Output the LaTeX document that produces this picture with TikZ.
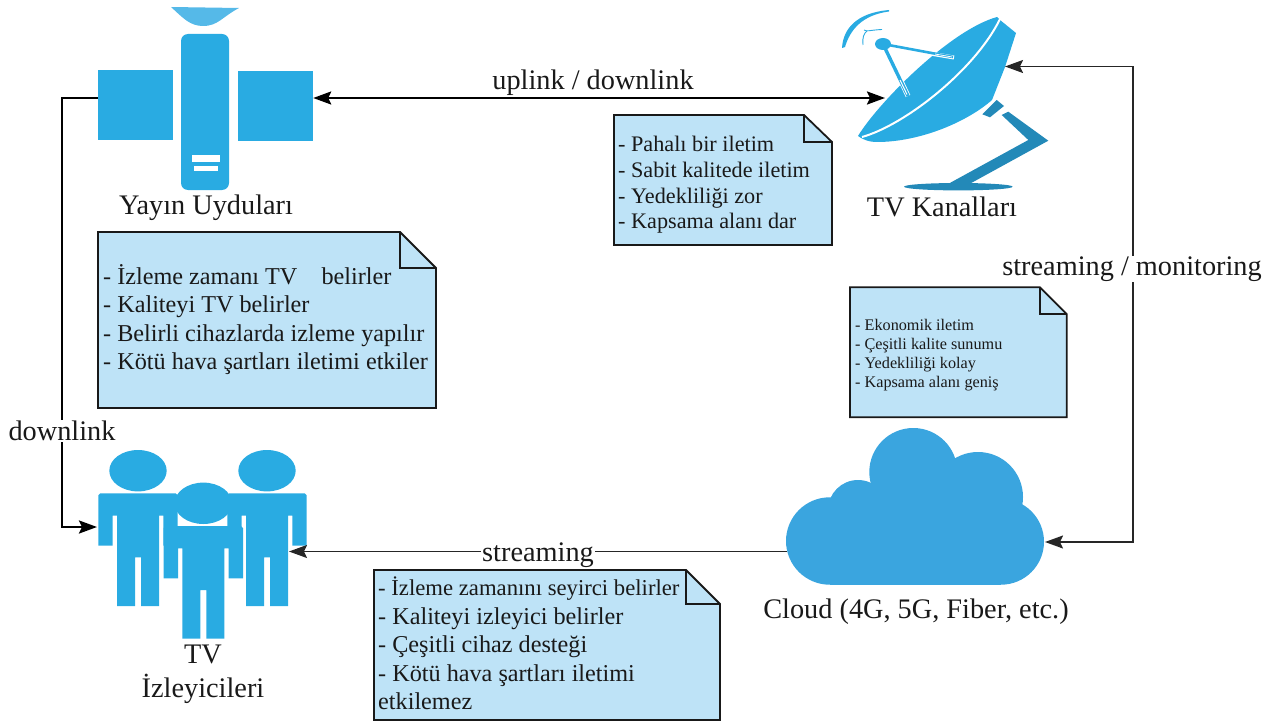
\documentclass[tikz,border=0pt]{standalone}
\usepackage{fontspec}
\setmainfont{Liberation Serif}
\usetikzlibrary{arrows.meta}
\definecolor{iconblue}{HTML}{29ABE2}
\definecolor{iconlight}{HTML}{55B9E8}
\definecolor{icondark}{HTML}{2389B8}
\definecolor{cloudblue}{HTML}{3AA5DF}
\definecolor{notefill}{HTML}{BEE3F7}
\tikzset{
  x=1pt,y=-1pt,
  panel/.style={fill=iconblue,draw=none,inner sep=0pt,minimum width=75pt,minimum height=70pt},
  lab/.style={font=\fontsize{28.3}{32}\selectfont,inner sep=0pt,align=center,text=black!90},
  cutlab/.style={lab,fill=white,inner sep=1pt},
  notetext/.style={inner sep=0pt,align=left,anchor=north west,text=black!90},
  noteline/.style={draw=black!90,line width=1.8pt,fill=notefill,line join=miter},
  foldline/.style={draw=black!90,line width=1.8pt},
  thick link/.style={draw=black,line width=2.4pt},
  thin link/.style={draw=black!85,line width=1.6pt},
  big tip/.style={-{Stealth[length=18pt,width=13pt,inset=3pt]}},
  both tips/.style={{Stealth[length=18pt,width=13pt,inset=3pt]}-{Stealth[length=18pt,width=13pt,inset=3pt]}},
  person/.pic={
    \fill[iconblue] (0,0) ellipse[x radius=28.7,y radius=20.7];
    \fill[iconblue] (-37.7,22.7) -- (37.7,22.7) to[out=0,in=-90] (39.7,24.7) -- (39.7,75) -- (25.3,75) -- (25.3,45)
      -- (21,45) -- (21,135.3) -- (3,135.3) -- (3,86.7) -- (-3,86.7) -- (-3,135.3) -- (-21,135.3) -- (-21,45)
      -- (-25.3,45) -- (-25.3,75) -- (-39.7,75) -- (-39.7,24.7) to[out=-90,in=180] cycle;
  }
}
\begin{document}
\begin{tikzpicture}
\useasboundingbox (0,0) rectangle (1273,722);
% satellite
\fill[iconlight] (171,7) -- (239,8) .. controls (222,17) and (218,26) .. (203,26) .. controls (190,26) and (183,18) .. (171,7) -- cycle;
\fill[iconblue,rounded corners=7pt] (181,34) rectangle (229,190);
\node[panel] (panelL) at (135.5,105) {};
\node[panel] (panelR) at (275.5,106) {};
\fill[white] (191.5,155) rectangle (219.5,162);
\fill[white] (193.5,166) rectangle (218,171);
\node[lab] (satlabel) at (206,208) {Yayın Uyduları};
% dish
\fill[icondark] (996.7,100) -- (1004,106) -- (990,117.3) -- (982.3,114.3) -- cycle;
\fill[icondark] (1001.7,115) -- (1008.3,111.7) -- (1048.3,140.7) -- (970.7,183.3) -- (949.3,183.3) -- (1028.3,140) -- cycle;
\fill[icondark] (958.3,186.7) ellipse[x radius=54.3,y radius=3.7];
\fill[iconblue] (858,136) .. controls (878,103) and (950,30) .. (997,17) -- (1000,20) -- (1016,33) -- (1005,67) -- (992,100)
  .. controls (967,122) and (920,142) .. (877,142) .. controls (868,142) and (862,139) .. (858,136) -- cycle;
\draw[white,line width=2pt] (862,137) .. controls (905,125) and (975,70) .. (1000,19);
\fill[iconblue] (842,48) .. controls (843,30) and (855,13) .. (889,10) -- (889,11.5)
  .. controls (862,15) and (850,30) .. (845,47) -- cycle;
\draw[iconblue,line width=0.9pt] (864,30) .. controls (867,32) and (870,30) .. (882,29.5);
\draw[iconblue,line width=0.9pt] (863,45) .. controls (862,38) and (864,33) .. (867,31);
\draw[white,line width=5pt] (892,62) -- (908,96);
\draw[iconblue,line width=3.4pt] (883,44) -- (908,96);
\draw[white,line width=1pt] (900,80) -- (907,94.5);
\draw[white,line width=4pt] (915,51) -- (954,57.5);
\draw[iconblue,line width=2.6pt] (883,44) -- (953,57);
\draw[white,line width=0.8pt] (935,54) -- (952,57);
\fill[iconblue] (883,44) ellipse[x radius=8,y radius=6];
\node[lab] (dishlabel) at (942,207) {TV Kanalları};
\coordinate (dishL) at (885,98);
\coordinate (dishR) at (1005,66.5);
% people
\pic at (138,470.7) {person};
\pic at (267,470.7) {person};
\pic at (203.3,503.3) {person};
\node[lab] (tvlabel) at (203,674) {TV\\[2pt]İzleyicileri};
\coordinate (peopleL) at (97,527);
\coordinate (peopleR) at (289,551.5);
% cloud
\fill[cloudblue] (829.7,541) circle[radius=43.7];
\fill[cloudblue] (1001,541.7) circle[radius=43];
\fill[cloudblue] (858,510) circle[radius=30];
\fill[cloudblue] (913.3,472) circle[radius=44];
\fill[cloudblue] (978,497) circle[radius=45];
\fill[cloudblue] (829.7,500) rectangle (1001,584.7);
\node[lab] (cloudlabel) at (916,612) {Cloud (4G, 5G, Fiber, etc.)};
\coordinate (cloudL) at (787,551.5);
\coordinate (cloudR) at (1045,542);
% notes
\path[noteline] (614,115) -- (804,115) -- (832,142) -- (832,245) -- (614,245) -- cycle;
\draw[foldline] (804,115) -- (804,142) -- (832,142);
\node[notetext,font=\fontsize{22.2}{25.7}\selectfont] (noteA) at (618,136) {- Pahalı bir iletim\\- Sabit kalitede iletim\\- Yedekliliği zor\\- Kapsama alanı dar};
\path[noteline] (98,232) -- (400,232) -- (436,268) -- (436,408) -- (98,408) -- cycle;
\draw[foldline] (400,232) -- (400,268) -- (436,268);
\node[notetext,font=\fontsize{24.2}{28.3}\selectfont] (noteB) at (103,264.5) {- İzleme zamanı TV\ \ \ \ belirler\\- Kaliteyi TV belirler\\- Belirli cihazlarda izleme yapılır\\- Kötü hava şartları iletimi etkiler};
\path[noteline] (850,287.3) -- (1040,287.3) -- (1066.7,314) -- (1066.7,417.3) -- (850,417.3) -- cycle;
\draw[foldline] (1040,287.3) -- (1040,314) -- (1066.7,314);
\node[notetext,font=\fontsize{16.2}{19}\selectfont] (noteC) at (855,319) {- Ekonomik iletim\\- Çeşitli kalite sunumu\\- Yedekliliği kolay\\- Kapsama alanı geniş};
\path[noteline] (374,570) -- (686,570) -- (720,604) -- (720,720) -- (374,720) -- cycle;
\draw[foldline] (686,570) -- (686,604) -- (720,604);
\node[notetext,font=\fontsize{24.2}{28.5}\selectfont] (noteD) at (378,577) {{\fontsize{22.7}{28.5}\selectfont - İzleme zamanını seyirci belirler}\\- Kaliteyi izleyici belirler\\- Çeşitli cihaz desteği\\- Kötü hava şartları iletimi\\etkilemez};
% connectors
\draw[thick link,both tips] (panelR.east |- 0,98) coordinate (satR) -- (dishL);
\node[lab] (uplab) at (593,83) {uplink / downlink};
\draw[thick link,big tip] (panelL.west |- satR) coordinate (satL) -- (62,98) -- (62,527) -- (peopleL);
\node[cutlab] (downlab) at (62,431) {downlink};
\draw[thin link,big tip] (cloudL) -- (peopleR);
\node[cutlab] (streamlab) at (538,555) {streaming};
\draw[thin link,both tips] (dishR) -- (1133,66.5) -- (1133,542) -- (cloudR);
\node[cutlab] (monlab) at (1132,269) {streaming / monitoring};
\end{tikzpicture}
\end{document}
